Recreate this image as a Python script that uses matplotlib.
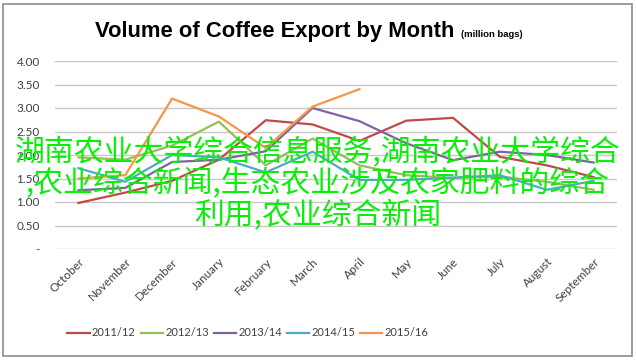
import matplotlib
matplotlib.use("Agg")
import matplotlib.pyplot as plt
from matplotlib.patches import Rectangle

months = ["October", "November", "December", "January", "February", "March",
          "April", "May", "June", "July", "August", "September"]

s_2011_12 = [0.98, 1.20, 1.45, 1.90, 2.74, 2.65, 2.30, 2.73, 2.79, 1.96, 1.78, 1.53]
s_2012_13 = [1.95, 1.90, 2.20, 2.71, 1.78, 2.35, 1.78, 1.57, 1.51, 1.54, 1.43, 1.26]
s_2013_14 = [1.25, 1.30, 1.85, 1.90, 2.08, 3.00, 2.72, 2.25, 1.89, 2.07, 2.00, 1.84]
s_2014_15 = [1.72, 1.43, 2.00, 1.95, 1.63, 2.07, 1.47, 1.47, 1.52, 1.57, 1.26, 1.45]
s_2015_16 = [1.50, 1.57, 3.20, 2.82, 2.15, 3.03, 3.40]

series_names = ["2011/12", "2012/13", "2013/14", "2014/15", "2015/16"]
series_values = [s_2011_12, s_2012_13, s_2013_14, s_2014_15, s_2015_16]
colors = ["#BE4B48", "#9BBB59", "#7F63A1", "#4BACC6", "#F79646"]

y_ticks = [0, 0.5, 1.0, 1.5, 2.0, 2.5, 3.0, 3.5, 4.0]
y_tick_labels = ["-", "0.50", "1.00", "1.50", "2.00", "2.50", "3.00", "3.50", "4.00"]

overlay_text = ("湖南农业大学综合信息服务,湖南农业大学综合\n"
                ",农业综合新闻,生态农业涉及农家肥料的综合\n"
                "利用,农业综合新闻")

W, H = 637, 360
fig = plt.figure(figsize=(W / 100, H / 100), dpi=100)
fig.patch.set_facecolor("white")

ax = fig.add_axes([55 / W, 1 - 249 / H, (617 - 55) / W, (249 - 61) / H])
x = list(range(len(months)))
for name, vals, c in zip(series_names, series_values, colors):
    ax.plot(x[:len(vals)], vals, color=c, lw=1.6, label=name,
            solid_joinstyle="round", zorder=3)

ax.set_xlim(-0.5, len(months) - 0.5)
ax.set_ylim(0, 4)
ax.set_yticks(y_ticks)
ax.set_yticklabels(y_tick_labels, fontsize=8.5, color="#404040", family="Lato")
ax.set_xticks(x)
ax.set_xticklabels(months, rotation=45, ha="right", va="top",
                   rotation_mode="anchor", fontsize=8.5, color="#404040",
                   family="Lato")
ax.tick_params(axis="y", length=0, pad=11)
ax.tick_params(axis="x", length=0, pad=5)
ax.grid(axis="y", color="#c8c8c8", lw=1.0)
ax.set_axisbelow(True)
for sp in ax.spines.values():
    sp.set_visible(False)

# chart title, with the unit note placed right after it
title = fig.text(95 / W, 1 - 37 / H, "Volume of Coffee Export by Month",
                 fontsize=15.8, fontweight="bold", family="Liberation Sans",
                 color="black", va="baseline", ha="left")
renderer = fig.canvas.get_renderer()
tb = title.get_window_extent(renderer)
fig.text((tb.x1 + 7) / W, 1 - 37 / H, "(million bags)", fontsize=6.8,
         fontweight="bold", family="Liberation Sans", color="black",
         va="baseline", ha="left")

# legend along the bottom
leg = fig.legend(loc="center", bbox_to_anchor=(248 / W, 1 - 333 / H), ncol=5,
                 frameon=False, handlelength=2.0, handletextpad=0.2,
                 columnspacing=0.45, prop={"family": "Lato", "size": 8})
for t in leg.get_texts():
    t.set_color("#404040")

# outer chart border
fig.add_artist(Rectangle((3 / W, 4 / H), (632 - 3) / W, (356 - 4) / H,
                         transform=fig.transFigure, fill=False,
                         edgecolor="#8c8c8c", lw=1.2))

# green overlay caption
fig.text(318 / W, 1 - 184 / H, overlay_text, fontsize=21.5, color="#0aef0a",
         family=["Noto Sans CJK SC", "DejaVu Sans"], ha="center", va="center",
         linespacing=1.0, zorder=10)

fig.savefig("out.png", dpi=100, facecolor="white")
